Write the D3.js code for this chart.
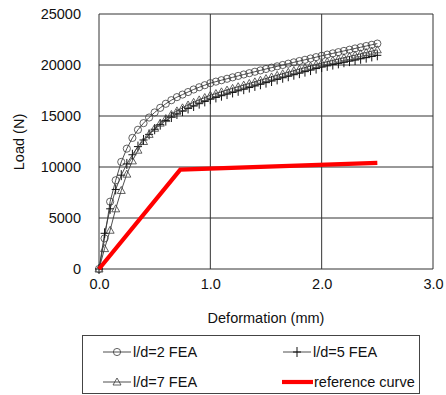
<!DOCTYPE html>
<html>
<head>
<meta charset="utf-8">
<script src="https://cdn.jsdelivr.net/npm/d3@7"></script>
<style>
  body { margin: 0; background: #fff; }
  text { font-family: "Liberation Sans", Arial, sans-serif; fill: #111; }
</style>
</head>
<body>
<div id="chart"></div>
<script>
// deformation (mm), shared by all three FEA series
let deform = [0, 0.05, 0.1, 0.15, 0.2, 0.25, 0.3, 0.35, 0.4, 0.45, 0.5,
  0.55, 0.6, 0.65, 0.7, 0.75, 0.8, 0.85, 0.9, 0.95, 1.0,
  1.05, 1.1, 1.15, 1.2, 1.25, 1.3, 1.35, 1.4, 1.45, 1.5,
  1.55, 1.6, 1.65, 1.7, 1.75, 1.8, 1.85, 1.9, 1.95, 2.0,
  2.05, 2.1, 2.15, 2.2, 2.25, 2.3, 2.35, 2.4, 2.45, 2.5];

let load2 = [0, 3000, 6600, 8700, 10500, 11800, 12850, 13650, 14300, 14850, 15350,
  15800, 16200, 16550, 16850, 17100, 17350, 17600, 17820, 18020, 18220,
  18370, 18510, 18650, 18790, 18930, 19070, 19200, 19340, 19470, 19610,
  19740, 19870, 20000, 20130, 20260, 20390, 20510, 20640, 20770, 20900,
  21020, 21140, 21260, 21380, 21500, 21620, 21740, 21860, 21980, 22100];

let load5 = [0, 3500, 5900, 7800, 9200, 10300, 11200, 12000, 12650, 13200, 13700,
  14150, 14550, 14900, 15200, 15480, 15740, 15980, 16210, 16430, 16650,
  16820, 16990, 17150, 17310, 17470, 17630, 17790, 17950, 18110, 18270,
  18430, 18590, 18750, 18900, 19050, 19200, 19350, 19500, 19650, 19800,
  19920, 20040, 20160, 20270, 20380, 20490, 20610, 20720, 20840, 20950];

let load7 = [0, 2000, 3800, 5900, 7700, 9300, 10600, 11650, 12500, 13200, 13800,
  14300, 14750, 15150, 15500, 15800, 16080, 16340, 16580, 16810, 17030,
  17200, 17370, 17540, 17710, 17870, 18030, 18190, 18350, 18510, 18670,
  18830, 18990, 19140, 19290, 19440, 19590, 19740, 19890, 20040, 20190,
  20320, 20450, 20580, 20710, 20840, 20970, 21100, 21230, 21360, 21490];

let refX = [0, 0.73, 2.5];
let refY = [0, 9750, 10400];

let xTicks = [0, 1, 2, 3];
let yTicks = [0, 5000, 10000, 15000, 20000, 25000];

let series = [
  {name: "l/d=2 FEA", y: load2, marker: "circle"},
  {name: "l/d=5 FEA", y: load5, marker: "plus"},
  {name: "l/d=7 FEA", y: load7, marker: "triangle"}
];

let svg = d3.select("#chart").append("svg").attr("width", 446).attr("height", 395);

let x = d3.scaleLinear().domain([0, 3]).range([99, 433]);
let y = d3.scaleLinear().domain([0, 25000]).range([269, 14]);

let lineCol = "#3a3a3a";

// grid
svg.append("g").selectAll("line").data(yTicks).enter().append("line")
  .attr("x1", x(0)).attr("x2", x(3))
  .attr("y1", d => y(d)).attr("y2", d => y(d))
  .attr("stroke", "#333").attr("stroke-width", 1);
svg.append("g").selectAll("line").data(xTicks).enter().append("line")
  .attr("x1", d => x(d)).attr("x2", d => x(d))
  .attr("y1", y(0)).attr("y2", y(25000))
  .attr("stroke", "#333").attr("stroke-width", 1);

// axes (labels only, no tick marks)
let xAxis = svg.append("g").attr("transform", `translate(0,${y(0)})`)
  .call(d3.axisBottom(x).tickValues(xTicks).tickFormat(d3.format(".1f")).tickSize(0).tickPadding(10));
let yAxis = svg.append("g").attr("transform", `translate(${x(0)},0)`)
  .call(d3.axisLeft(y).tickValues(yTicks).tickFormat(d => d).tickSize(0).tickPadding(18));
[xAxis, yAxis].forEach(a => {
  a.select(".domain").remove();
  a.selectAll("text").attr("font-size", 14.5).attr("font-family", "Liberation Sans, Arial, sans-serif").attr("fill", "#111");
});

svg.append("text").attr("x", 266).attr("y", 323).attr("text-anchor", "middle")
  .attr("font-size", 14.5).text("Deformation (mm)");
svg.append("text").attr("transform", "translate(24,142) rotate(-90)").attr("text-anchor", "middle")
  .attr("font-size", 14.5).text("Load (N)");

// marker drawing
function drawMarker(g, type) {
  if (type == "circle") {
    g.append("circle").attr("r", 3.6).attr("fill", "none").attr("stroke", lineCol).attr("stroke-width", 0.8);
  } else if (type == "triangle") {
    g.append("path").attr("d", "M0,-4L4,3L-4,3Z").attr("fill", "none").attr("stroke", lineCol).attr("stroke-width", 0.8);
  } else {
    g.append("path").attr("d", "M-4,0H4M0,-5V5").attr("fill", "none").attr("stroke", "#111").attr("stroke-width", 1);
  }
}

let line = d3.line().x(d => x(d[0])).y(d => y(d[1]));

series.forEach(s => {
  let pts = deform.map((d, i) => [d, s.y[i]]);
  svg.append("path").datum(pts).attr("d", line)
    .attr("fill", "none").attr("stroke", lineCol).attr("stroke-width", 0.9);
  svg.append("g").selectAll("g").data(pts).enter().append("g")
    .attr("transform", d => `translate(${x(d[0])},${y(d[1])})`)
    .each(function() { drawMarker(d3.select(this), s.marker); });
});

// reference curve
svg.append("path").datum(refX.map((d, i) => [d, refY[i]])).attr("d", line)
  .attr("fill", "none").attr("stroke", "#ff0000").attr("stroke-width", 4.2);

// legend
let legend = svg.append("g");
legend.append("rect").attr("x", 82.5).attr("y", 335.5).attr("width", 337).attr("height", 58)
  .attr("fill", "#fff").attr("stroke", "#444").attr("stroke-width", 1);

let legendItems = [
  {name: "l/d=2 FEA", marker: "circle", lx: 103, ly: 352},
  {name: "l/d=5 FEA", marker: "plus", lx: 283, ly: 352},
  {name: "l/d=7 FEA", marker: "triangle", lx: 103, ly: 382},
  {name: "reference curve", marker: "ref", lx: 282, ly: 382}
];

legendItems.forEach(it => {
  let g = legend.append("g").attr("transform", `translate(${it.lx},${it.ly})`);
  if (it.marker == "ref") {
    g.append("line").attr("x1", 0).attr("x2", 31).attr("stroke", "#ff0000").attr("stroke-width", 4.2);
    g.append("text").attr("x", 32).attr("y", 5).attr("font-size", 14.5).text(it.name);
  } else {
    g.append("line").attr("x1", 0).attr("x2", 28).attr("stroke", lineCol).attr("stroke-width", 0.9);
    drawMarker(g.append("g").attr("transform", "translate(14,0)"), it.marker);
    g.append("text").attr("x", 30).attr("y", 5).attr("font-size", 14.5).text(it.name);
  }
});
</script>
</body>
</html>
